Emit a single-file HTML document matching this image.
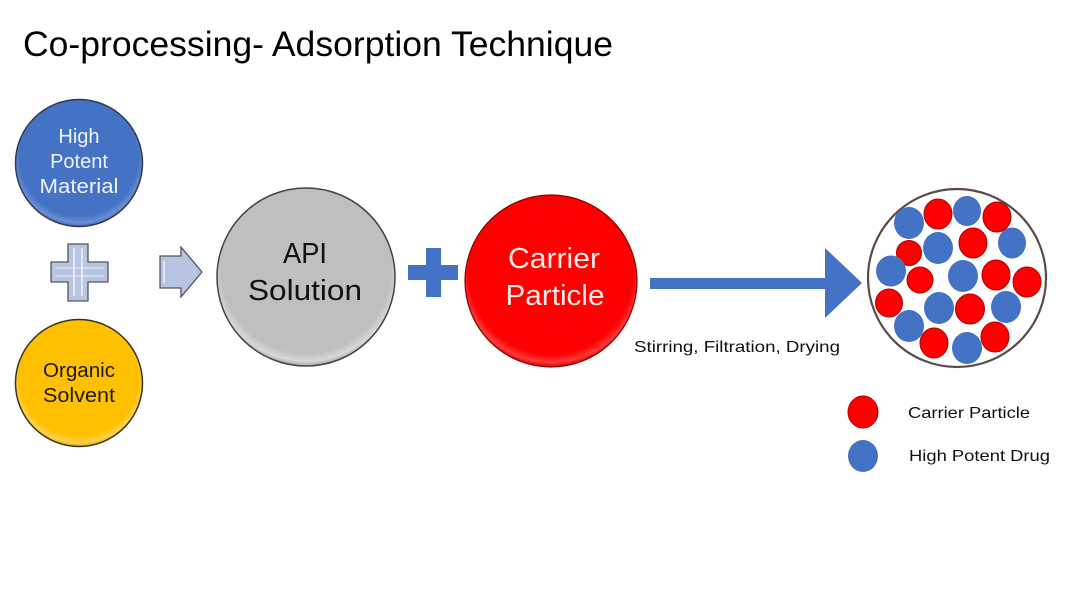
<!DOCTYPE html>
<html>
<head>
<meta charset="utf-8">
<style>
html,body{margin:0;padding:0;background:#fff;}
svg{display:block;}
text{font-family:"Liberation Sans",Arial,sans-serif;}
</style>
</head>
<body>
<svg width="1080" height="608" viewBox="0 0 1080 608" xmlns="http://www.w3.org/2000/svg">
<defs>
  <radialGradient id="gBlue" cx="50%" cy="45%" r="55%">
    <stop offset="0.85" stop-color="#4472C4"/>
    <stop offset="0.95" stop-color="#6b8fd3"/>
    <stop offset="1" stop-color="#3a64b0"/>
  </radialGradient>
  <radialGradient id="gYel" cx="50%" cy="45%" r="55%">
    <stop offset="0.85" stop-color="#FFC000"/>
    <stop offset="0.95" stop-color="#ffd24d"/>
    <stop offset="1" stop-color="#e0a800"/>
  </radialGradient>
  <radialGradient id="gGray" cx="50%" cy="45%" r="55%">
    <stop offset="0.87" stop-color="#BFBFBF"/>
    <stop offset="0.95" stop-color="#d8d8d8"/>
    <stop offset="1" stop-color="#a5a5a5"/>
  </radialGradient>
  <radialGradient id="gRed" cx="50%" cy="45%" r="55%">
    <stop offset="0.87" stop-color="#FF0000"/>
    <stop offset="0.95" stop-color="#ff3a3a"/>
    <stop offset="1" stop-color="#d90000"/>
  </radialGradient>
</defs>

<rect width="1080" height="608" fill="#fff"/>

<!-- Title -->
<text x="23" y="56" font-size="35" fill="#000" textLength="590" lengthAdjust="spacingAndGlyphs">Co-processing- Adsorption Technique</text>

<!-- High Potent Material -->
<circle cx="79" cy="163" r="63.5" fill="url(#gBlue)" stroke="#2f3b52" stroke-width="1.5"/>
<g fill="#f0f3fa" font-size="20" text-anchor="middle">
  <text x="79" y="143">High</text>
  <text x="79" y="168">Potent</text>
  <text x="79" y="193" textLength="79" lengthAdjust="spacingAndGlyphs">Material</text>
</g>

<!-- Plus (light) -->
<path d="M68 244 H88 V262 H108 V282 H88 V301 H68 V282 H51 V262 H68 Z" fill="#B7C5E3" stroke="#555" stroke-width="1.3"/>
<path d="M74 248 V296 M82 248 V296" stroke="#fff" stroke-width="1.5" opacity="0.8"/>
<path d="M55 268 H104 M55 276 H104" stroke="#fff" stroke-width="1.2" opacity="0.5"/>

<!-- Organic Solvent -->
<circle cx="79" cy="383" r="63.5" fill="url(#gYel)" stroke="#3a3320" stroke-width="1.5"/>
<g fill="#1a1a1a" font-size="20" text-anchor="middle">
  <text x="79" y="377" textLength="72" lengthAdjust="spacingAndGlyphs">Organic</text>
  <text x="79" y="402" textLength="72" lengthAdjust="spacingAndGlyphs">Solvent</text>
</g>

<!-- Small arrow -->
<path d="M160 256 H181 V247 L202 272 L181 297 V288 H160 Z" fill="#B7C5E3" stroke="#555" stroke-width="1.3"/>
<path d="M164 261 V283" stroke="#fff" stroke-width="1.5" opacity="0.7"/>

<!-- API Solution -->
<circle cx="306" cy="277" r="89" fill="url(#gGray)" stroke="#444" stroke-width="1.5"/>
<g fill="#111" font-size="29" text-anchor="middle">
  <text x="305" y="263" textLength="44" lengthAdjust="spacingAndGlyphs">API</text>
  <text x="305" y="300" textLength="114" lengthAdjust="spacingAndGlyphs">Solution</text>
</g>

<!-- Blue plus -->
<path d="M426 248 H441 V265 H458 V280 H441 V297 H426 V280 H408 V265 H426 Z" fill="#4472C4"/>

<!-- Carrier Particle -->
<circle cx="551" cy="281" r="86" fill="url(#gRed)" stroke="#8a0000" stroke-width="1.2"/>
<g fill="#fde8e8" font-size="29" text-anchor="middle">
  <text x="554" y="268" textLength="92" lengthAdjust="spacingAndGlyphs">Carrier</text>
  <text x="555" y="305" textLength="99" lengthAdjust="spacingAndGlyphs">Particle</text>
</g>

<!-- Big arrow -->
<path d="M650 278 H825 V248 L862 283 L825 318 V289 H650 Z" fill="#4472C4"/>
<text x="634" y="352" font-size="16" fill="#111" textLength="206" lengthAdjust="spacingAndGlyphs">Stirring, Filtration, Drying</text>

<!-- Result particle -->
<circle cx="957" cy="278" r="89" fill="#fff" stroke="#5a4a4a" stroke-width="2.2"/>
<g stroke="#b00000" stroke-width="1" fill="#FF0000">
  <ellipse cx="938" cy="214" rx="14" ry="15"/>
  <ellipse cx="997" cy="217" rx="14" ry="15"/>
  <ellipse cx="909" cy="253" rx="12.5" ry="12.5"/>
  <ellipse cx="973" cy="243" rx="14" ry="15"/>
  <ellipse cx="920" cy="280" rx="13" ry="13"/>
  <ellipse cx="996" cy="275" rx="14" ry="15"/>
  <ellipse cx="1027" cy="282" rx="14" ry="15"/>
  <ellipse cx="889" cy="303" rx="13.5" ry="14"/>
  <ellipse cx="970" cy="309" rx="14.5" ry="15"/>
  <ellipse cx="934" cy="343" rx="14" ry="15"/>
  <ellipse cx="995" cy="337" rx="14" ry="15"/>
</g>
<g fill="#4472C4">
  <ellipse cx="909" cy="223" rx="15" ry="16"/>
  <ellipse cx="967" cy="211" rx="14" ry="15"/>
  <ellipse cx="938" cy="248" rx="15" ry="16"/>
  <ellipse cx="1012" cy="243" rx="14" ry="15.5"/>
  <ellipse cx="891" cy="271" rx="15" ry="15.5"/>
  <ellipse cx="963" cy="276" rx="15" ry="16"/>
  <ellipse cx="939" cy="308" rx="15" ry="16"/>
  <ellipse cx="1006" cy="307" rx="15" ry="16"/>
  <ellipse cx="909" cy="326" rx="15" ry="16"/>
  <ellipse cx="967" cy="348" rx="15" ry="16"/>
</g>

<!-- Legend -->
<ellipse cx="863" cy="412" rx="15" ry="16" fill="#FF0000" stroke="#b00000" stroke-width="1"/>
<ellipse cx="863" cy="456" rx="15" ry="16" fill="#4472C4"/>
<text x="908" y="418" font-size="16" fill="#111" textLength="122" lengthAdjust="spacingAndGlyphs">Carrier Particle</text>
<text x="909" y="461" font-size="16" fill="#111" textLength="141" lengthAdjust="spacingAndGlyphs">High Potent Drug</text>
</svg>
</body>
</html>
